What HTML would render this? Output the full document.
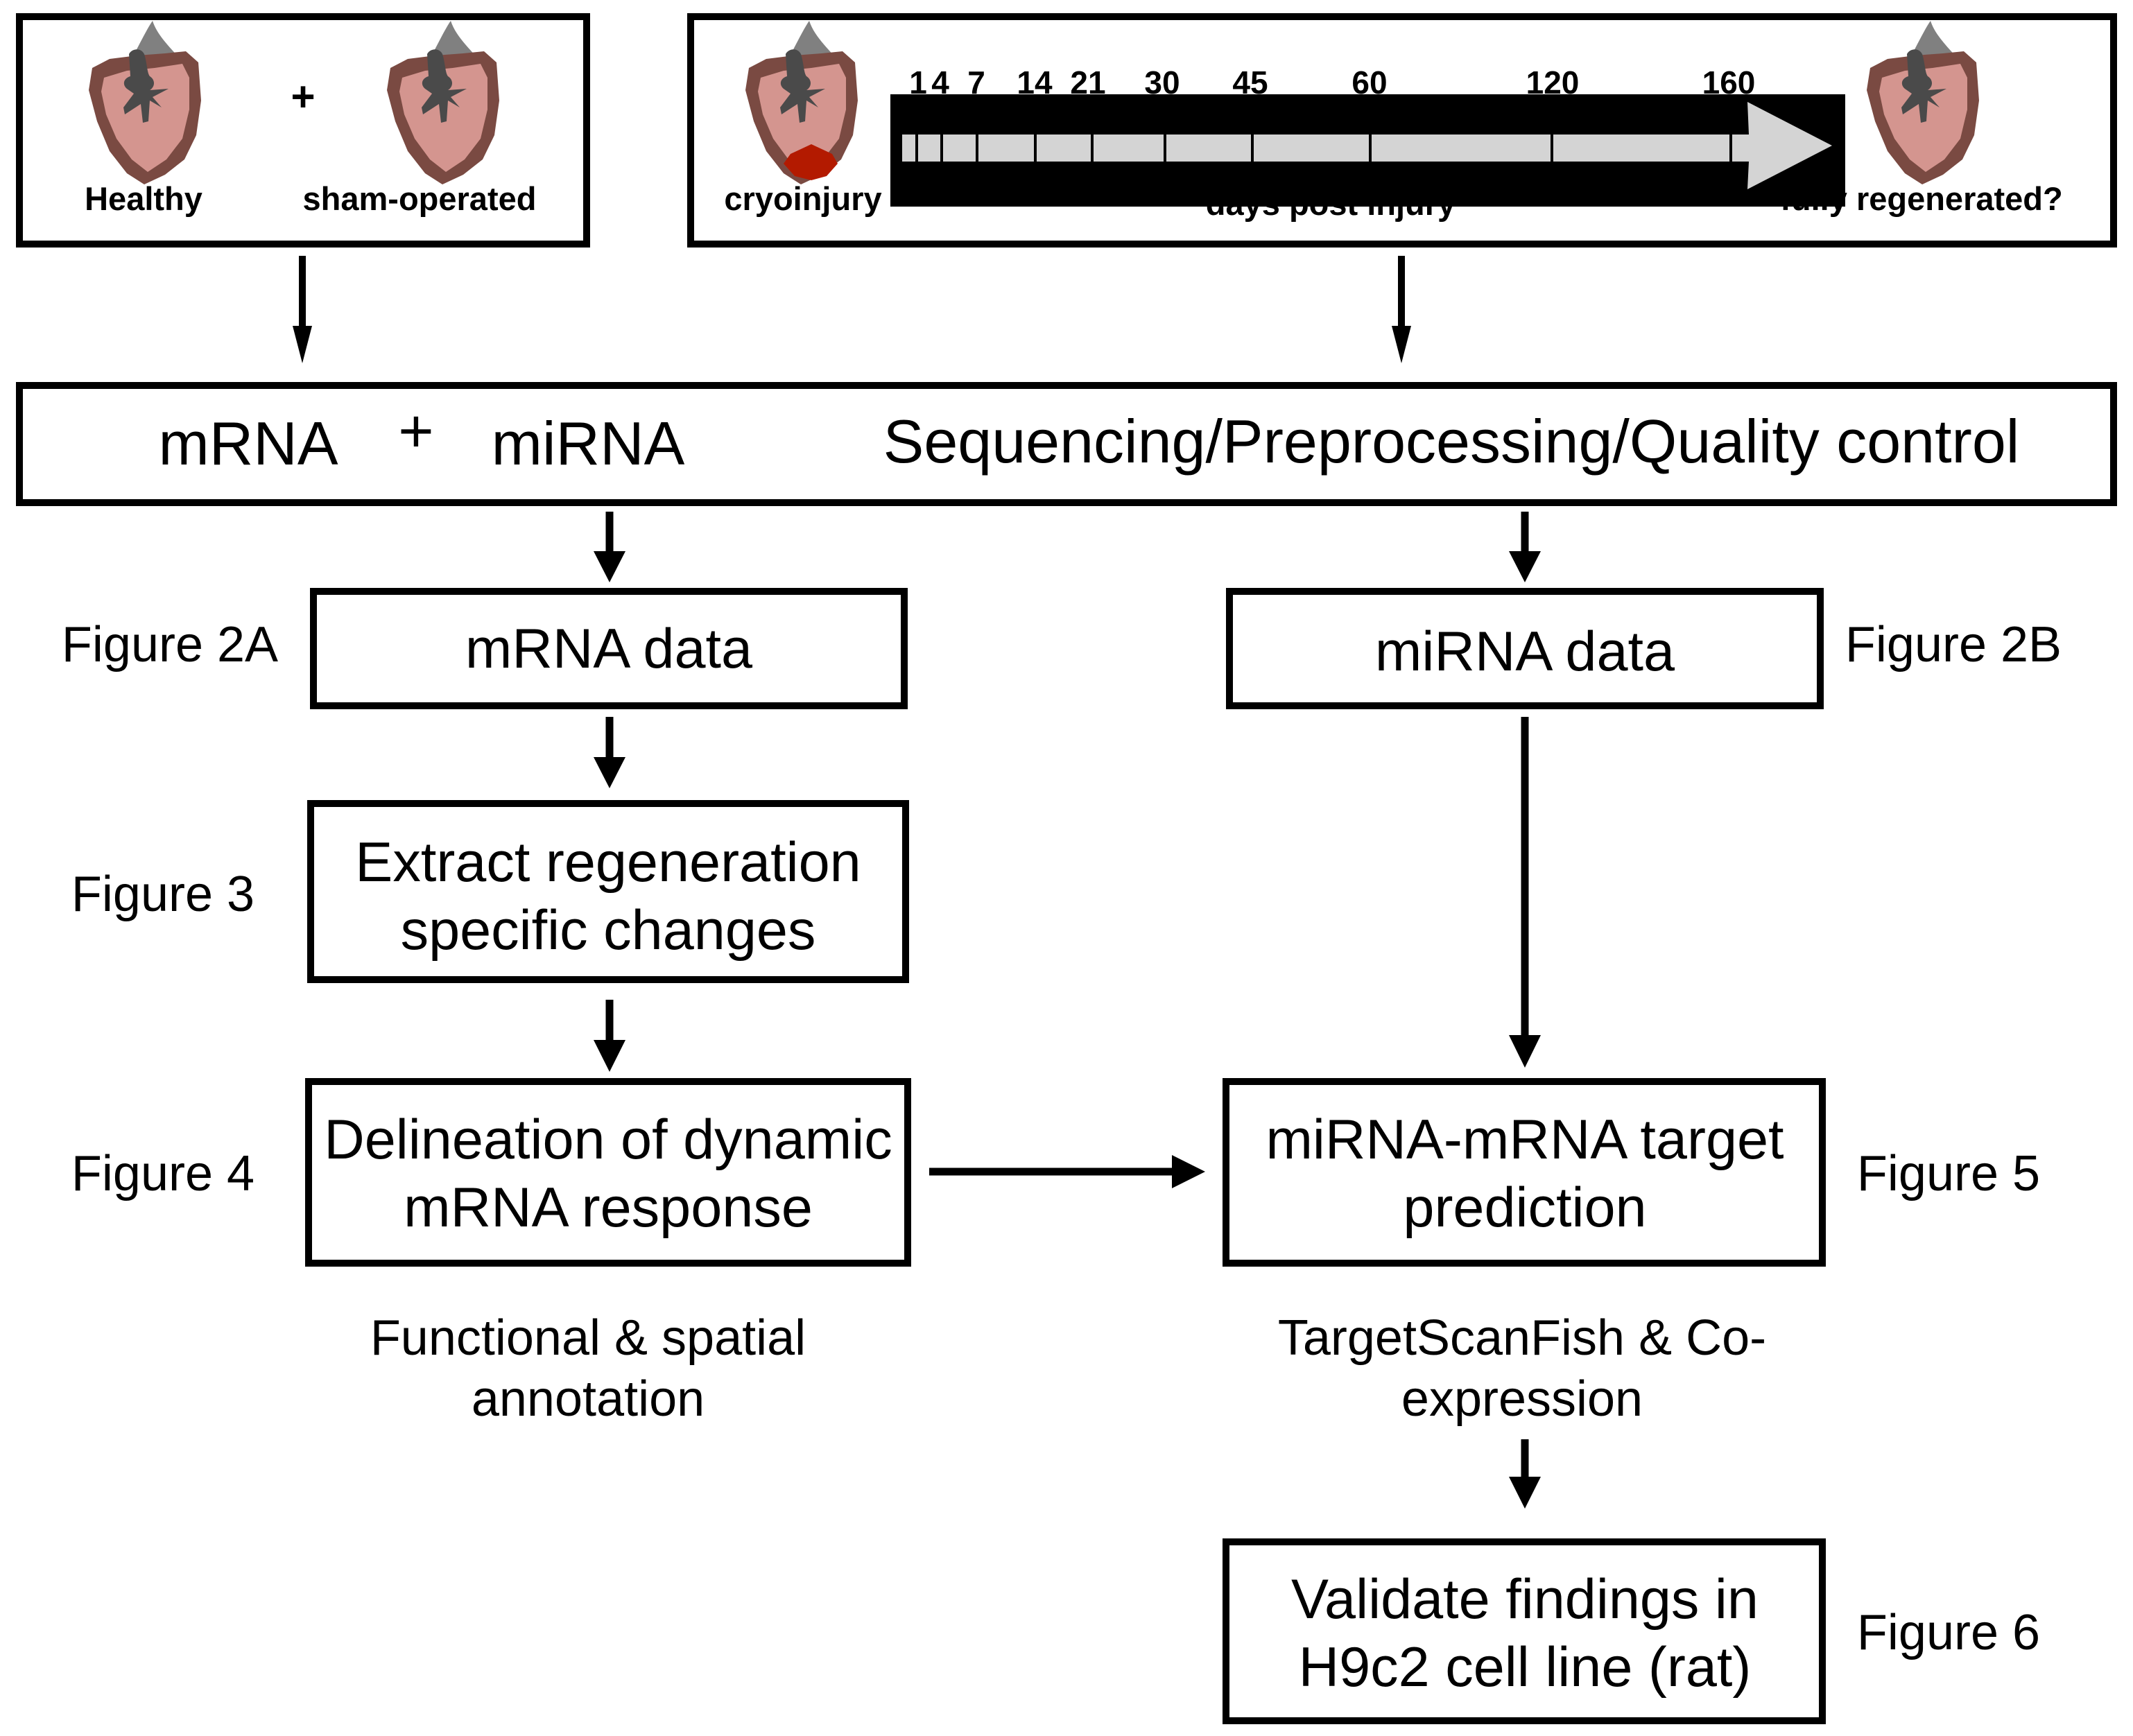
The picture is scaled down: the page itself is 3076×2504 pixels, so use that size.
<!DOCTYPE html>
<html><head><meta charset="utf-8"><style>
html,body{margin:0;padding:0;background:#fff;}
svg{display:block;}
text{font-family:"Liberation Sans",Arial,sans-serif;fill:#000;}
.b{font-weight:bold;font-size:47px;}
.t{font-weight:bold;font-size:46px;}
.s{font-size:88px;}
.m{font-size:81px;}
.f{font-size:72px;}
</style></head><body>
<svg width="3076" height="2504" viewBox="0 0 3076 2504" xmlns="http://www.w3.org/2000/svg">
<defs>
<g id="heart">
<path d="M62,55 C75,30 85,10 92,0 C100,25 125,45 140,65 L120,80 L70,80 Z" fill="#808080"/>
<path d="M5,68 L30,55 L70,50 L110,47 L140,44 L158,60 L162,115 L155,165 L138,200 L110,222 L80,236 L55,220 L30,188 L12,145 L0,100 Z" fill="#7a4a42"/>
<path d="M22,82 L55,72 L95,68 L135,62 L145,82 L145,128 L135,170 L112,200 L85,218 L62,200 L40,170 L25,135 L18,102 Z" fill="#d4958f"/>
<path d="M58,48 C62,40 75,38 80,48 C84,60 84,75 88,80 C96,85 96,95 88,100 L115,98 L92,110 L105,125 L88,115 L86,145 L78,147 L75,120 L52,135 L50,125 L65,105 L55,98 C48,92 50,83 60,80 Z" fill="#4a4a4a"/>
</g>
</defs>

<rect x="28" y="24" width="818" height="328" fill="none" stroke="#000" stroke-width="10"/>
<use href="#heart" x="128" y="30"/>
<use href="#heart" x="558" y="30"/>
<text x="437" y="160" class="b" text-anchor="middle" style="font-size:60px">+</text>
<text x="207" y="303" class="b" text-anchor="middle">Healthy</text>
<text x="605" y="303" class="b" text-anchor="middle">sham-operated</text>

<rect x="996" y="24" width="2052" height="328" fill="none" stroke="#000" stroke-width="10"/>
<use href="#heart" x="1075" y="30"/>
<path d="M1170,208 L1200,222 L1208,236 L1192,254 L1170,260 L1146,254 L1130,236 L1140,222 Z" fill="#b31a00"/>
<use href="#heart" x="2692" y="30"/>
<text x="1158" y="303" class="b" text-anchor="middle">cryoinjury</text>
<text x="1919" y="310" class="b" text-anchor="middle">days post injury</text>
<text x="2771" y="303" class="b" text-anchor="middle">fully regenerated?</text>
<rect x="1284" y="136" width="1377" height="162" fill="#000"/>
<path d="M1301,194 L2522,194 L2520,147 L2642,210 L2520,273 L2522,233 L1301,233 Z" fill="#d4d4d4"/>
<g stroke="#000" stroke-width="4">
<line x1="1322" y1="194" x2="1322" y2="233"/><line x1="1358" y1="194" x2="1358" y2="233"/>
<line x1="1409" y1="194" x2="1409" y2="233"/><line x1="1493" y1="194" x2="1493" y2="233"/>
<line x1="1575" y1="194" x2="1575" y2="233"/><line x1="1680" y1="194" x2="1680" y2="233"/>
<line x1="1806" y1="194" x2="1806" y2="233"/><line x1="1976" y1="194" x2="1976" y2="233"/>
<line x1="2238" y1="194" x2="2238" y2="233"/><line x1="2496" y1="194" x2="2496" y2="233"/>
</g>
<g text-anchor="middle">
<text x="1324" y="135" class="t">1</text><text x="1356" y="135" class="t">4</text>
<text x="1408" y="135" class="t">7</text><text x="1492" y="135" class="t">14</text>
<text x="1569" y="135" class="t">21</text><text x="1676" y="135" class="t">30</text>
<text x="1803" y="135" class="t">45</text><text x="1975" y="135" class="t">60</text>
<text x="2239" y="135" class="t">120</text><text x="2493" y="135" class="t">160</text>
</g>

<g stroke="#000" stroke-width="10">
<line x1="436" y1="369" x2="436" y2="475"/>
<line x1="2021" y1="369" x2="2021" y2="475"/>
</g>
<path d="M422,470 L450,470 L436,524 Z" fill="#000"/>
<path d="M2007,470 L2035,470 L2021,524 Z" fill="#000"/>

<rect x="28" y="556" width="3020" height="169" fill="none" stroke="#000" stroke-width="10"/>
<text x="358" y="670" class="s" text-anchor="middle">mRNA</text>
<text x="600" y="652" class="s" text-anchor="middle">+</text>
<text x="848" y="670" class="s" text-anchor="middle">miRNA</text>
<text x="2093" y="667" class="s" text-anchor="middle">Sequencing/Preprocessing/Quality control</text>

<g stroke="#000" stroke-width="11">
<line x1="879" y1="738" x2="879" y2="800"/>
<line x1="2199" y1="738" x2="2199" y2="800"/>
<line x1="879" y1="1034" x2="879" y2="1100"/>
<line x1="879" y1="1442" x2="879" y2="1510"/>
<line x1="2199" y1="1034" x2="2199" y2="1500"/>
<line x1="2199" y1="2076" x2="2199" y2="2135"/>
<line x1="1340" y1="1690" x2="1695" y2="1690"/>
</g>
<path d="M856,795 L902,795 L879,840 Z" fill="#000"/>
<path d="M2176,795 L2222,795 L2199,840 Z" fill="#000"/>
<path d="M856,1092 L902,1092 L879,1137 Z" fill="#000"/>
<path d="M856,1500 L902,1500 L879,1546 Z" fill="#000"/>
<path d="M2176,1493 L2222,1493 L2199,1540 Z" fill="#000"/>
<path d="M2176,2130 L2222,2130 L2199,2176 Z" fill="#000"/>
<path d="M1690,1666 L1738,1690 L1690,1714 Z" fill="#000"/>

<g fill="none" stroke="#000" stroke-width="10">
<rect x="452" y="853" width="852" height="165"/>
<rect x="1773" y="853" width="852" height="165"/>
<rect x="448" y="1159" width="858" height="254"/>
<rect x="445" y="1560" width="864" height="262"/>
<rect x="1768" y="1560" width="860" height="262"/>
<rect x="1768" y="2224" width="860" height="258"/>
</g>
<g text-anchor="middle">
<text x="878" y="963" class="m">mRNA data</text>
<text x="2199" y="967" class="m">miRNA data</text>
<text x="877" y="1271" class="m">Extract regeneration</text>
<text x="877" y="1369" class="m">specific changes</text>
<text x="877" y="1671" class="m">Delineation of dynamic</text>
<text x="877" y="1769" class="m">mRNA response</text>
<text x="2199" y="1671" class="m">miRNA-mRNA target</text>
<text x="2199" y="1769" class="m">prediction</text>
<text x="2199" y="2334" class="m">Validate findings in</text>
<text x="2199" y="2432" class="m">H9c2 cell line (rat)</text>
</g>
<g text-anchor="middle">
<text x="245" y="954" class="f">Figure 2A</text>
<text x="2817" y="954" class="f">Figure 2B</text>
<text x="235" y="1314" class="f">Figure 3</text>
<text x="235" y="1717" class="f">Figure 4</text>
<text x="2810" y="1717" class="f">Figure 5</text>
<text x="2810" y="2379" class="f">Figure 6</text>
<text x="848" y="1954" class="f">Functional &amp; spatial</text>
<text x="848" y="2042" class="f">annotation</text>
<text x="2195" y="1954" class="f">TargetScanFish &amp; Co-</text>
<text x="2195" y="2042" class="f">expression</text>
</g>
</svg>
</body></html>
